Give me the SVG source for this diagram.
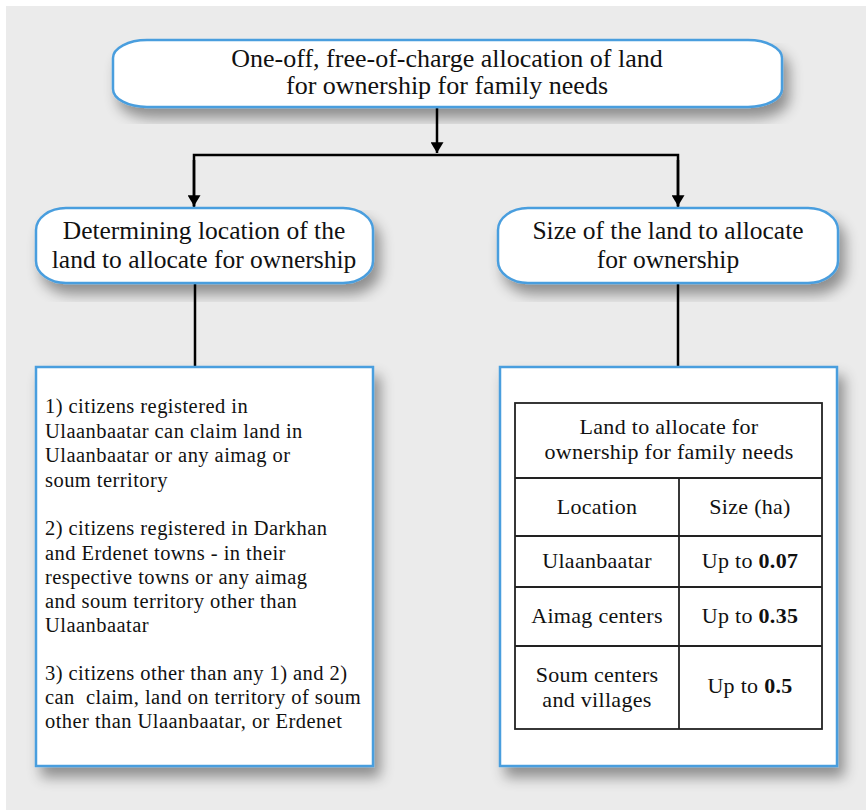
<svg xmlns="http://www.w3.org/2000/svg" width="868" height="810" viewBox="0 0 868 810">
<defs>
<filter id="sh" x="-10%" y="-10%" width="125%" height="135%">
<feGaussianBlur in="SourceAlpha" stdDeviation="7"/>
<feOffset dx="6" dy="10" result="b"/>
<feComponentTransfer><feFuncA type="linear" slope="0.4"/></feComponentTransfer>
<feMerge><feMergeNode/><feMergeNode in="SourceGraphic"/></feMerge>
</filter>
<marker id="ah" viewBox="0 0 10 12" refX="10" refY="6" markerWidth="15" markerHeight="13" markerUnits="userSpaceOnUse" orient="auto">
<path d="M0,0 L10,6 L0,12 Z" fill="#000"/>
</marker>
<style>
.box{fill:#fff;stroke:#4a9ede;stroke-width:2.5}
text{font-family:'Liberation Serif','DejaVu Serif',serif;fill:#111}
.top{font-size:26px;text-anchor:middle}
.h{font-size:25.5px;text-anchor:middle}
.b{font-size:20.5px;letter-spacing:0.45px}
.c{font-size:22px;letter-spacing:0.3px;text-anchor:middle}
.ln{stroke:#000;stroke-width:2.5;fill:none}
.tb{stroke:#222;stroke-width:1.8;fill:none}
</style>
</defs>
<rect x="0" y="0" width="868" height="810" fill="#fff"/>
<rect x="6" y="6" width="860" height="804" fill="#ebebeb"/>

<g id="connectors">
<line class="ln" x1="437" y1="108" x2="437" y2="153" marker-end="url(#ah)"/>
<polyline class="ln" points="194,207 194,155 678,155 678,207"/>
<line class="ln" x1="194" y1="160" x2="194" y2="206" marker-end="url(#ah)"/>
<line class="ln" x1="678" y1="160" x2="678" y2="206" marker-end="url(#ah)"/>
<line class="ln" x1="195" y1="283" x2="195" y2="367"/>
<line class="ln" x1="678" y1="283" x2="678" y2="367"/>
</g>

<g id="top">
<rect class="box" x="113" y="40" width="669" height="67" rx="34" ry="18" filter="url(#sh)"/>
<text class="top" x="447" y="67">One-off, free-of-charge allocation of land</text>
<text class="top" x="447" y="94">for ownership for family needs</text>
</g>

<g id="location">
<rect class="box" x="36" y="208" width="337" height="75" rx="30" ry="22" filter="url(#sh)"/>
<text class="h" x="204" y="239">Determining location of the</text>
<text class="h" x="204" y="268">land to allocate for ownership</text>
</g>

<g id="size">
<rect class="box" x="498" y="208" width="340" height="75" rx="30" ry="22" filter="url(#sh)"/>
<text class="h" x="668" y="239">Size of the land to allocate</text>
<text class="h" x="668" y="268">for ownership</text>
</g>

<g id="rules">
<rect class="box" x="36" y="367" width="337" height="399" filter="url(#sh)"/>
<text class="b" x="45" y="413">1) citizens registered in</text>
<text class="b" x="45" y="438">Ulaanbaatar can claim land in</text>
<text class="b" x="45" y="462">Ulaanbaatar or any aimag or</text>
<text class="b" x="45" y="487">soum territory</text>
<text class="b" x="45" y="535">2) citizens registered in Darkhan</text>
<text class="b" x="45" y="560">and Erdenet towns - in their</text>
<text class="b" x="45" y="584">respective towns or any aimag</text>
<text class="b" x="45" y="608">and soum territory other than</text>
<text class="b" x="45" y="632">Ulaanbaatar</text>
<text class="b" x="45" y="680">3) citizens other than any 1) and 2)</text>
<text class="b" x="45" y="704" xml:space="preserve">can  claim, land on territory of soum</text>
<text class="b" x="45" y="728">other than Ulaanbaatar, or Erdenet</text>
</g>

<g id="table">
<rect class="box" x="500" y="367" width="337" height="399" filter="url(#sh)"/>
<rect class="tb" x="515" y="403" width="307" height="326"/>
<line class="tb" x1="515" y1="478" x2="822" y2="478"/>
<line class="tb" x1="515" y1="536" x2="822" y2="536"/>
<line class="tb" x1="515" y1="587" x2="822" y2="587"/>
<line class="tb" x1="515" y1="646" x2="822" y2="646"/>
<line class="tb" x1="679" y1="478" x2="679" y2="729"/>
<text class="c" x="669" y="434">Land to allocate for</text>
<text class="c" x="669" y="459">ownership for family needs</text>
<text class="c" x="597" y="514">Location</text>
<text class="c" x="750" y="514">Size (ha)</text>
<text class="c" x="597" y="568">Ulaanbaatar</text>
<text class="c" x="750" y="568">Up to <tspan font-weight="bold">0.07</tspan></text>
<text class="c" x="597" y="623">Aimag centers</text>
<text class="c" x="750" y="623">Up to <tspan font-weight="bold">0.35</tspan></text>
<text class="c" x="597" y="682">Soum centers</text>
<text class="c" x="597" y="707">and villages</text>
<text class="c" x="750" y="693">Up to <tspan font-weight="bold">0.5</tspan></text>
</g>
</svg>
